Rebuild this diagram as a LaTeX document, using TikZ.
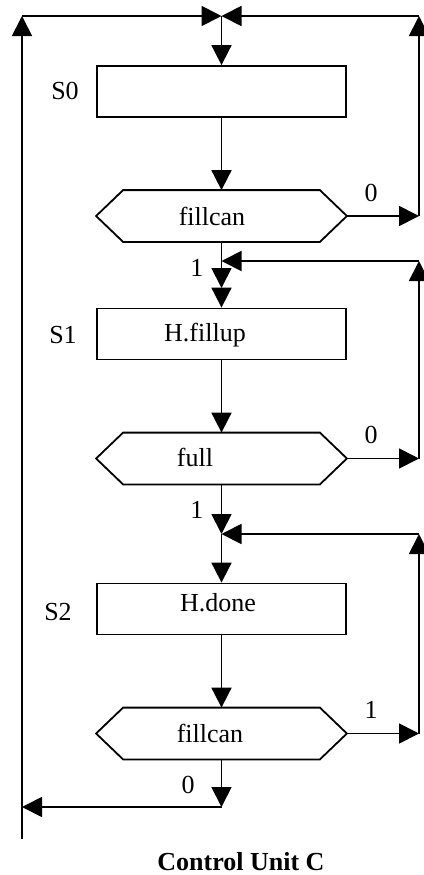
\documentclass[tikz,border=0pt]{standalone}
\usepackage{fontspec}
\setmainfont{Liberation Serif}
\usetikzlibrary{arrows.meta}
\begin{document}
\begin{tikzpicture}[x=0.5pt,y=-0.5pt,
  font=\fontsize{13}{15}\selectfont,
  line width=0.9pt,
  arr/.style={-{Triangle[length=10pt,width=10pt]}},
  statebox/.style={draw,rectangle,minimum width=124.5pt,minimum height=25.5pt,inner sep=0pt},
  hexbox/.style={rectangle,minimum width=124.5pt,minimum height=25pt,inner sep=0pt},
  lbl/.style={inner sep=0pt}]
\useasboundingbox (0,0) rectangle (424,875);

% states and decisions
\node[statebox] (S0) at (221.5,91.5) {};
\node[hexbox]   (h0) at (221.5,216) {};
\node[statebox] (S1) at (221.5,334) {};
\node[hexbox]   (h1) at (221.5,458.5) {};
\node[statebox] (S2) at (221.5,609) {};
\node[hexbox]   (h2) at (221.5,733.5) {};

% hexagonal decision outlines
\foreach \h in {h0,h1,h2}{
  \draw (\h.west) -- ([xshift=13.5pt]\h.north west) -- ([xshift=-13.5pt]\h.north east)
     -- (\h.east) -- ([xshift=-13.5pt]\h.south east) -- ([xshift=13.5pt]\h.south west) -- cycle;
}

% texts
\node[lbl] (t0) at (212,216) {fillcan};
\node[lbl] (t1) at (195,457) {full};
\node[lbl] (t2) at (210,733) {fillcan};
\node[lbl] (a1) at (205,335) {H.fillup};
\node[lbl] (a2) at (218,603) {H.done};
\node[lbl] (n0) at (65,91) {S0};
\node[lbl] (n1) at (63,335) {S1};
\node[lbl] (n2) at (58,612) {S2};
\node[lbl] (c0a) at (371,193) {0};
\node[lbl] (c0b) at (197,268) {1};
\node[lbl] (c1a) at (371,435) {0};
\node[lbl] (c1b) at (197,510) {1};
\node[lbl] (c2a) at (371,710) {1};
\node[lbl] (c2b) at (188,785) {0};
\node[lbl,font=\fontsize{13}{15}\selectfont\bfseries] (title) at (241,862) {Control Unit C};

% junction points
\coordinate (T)  at (221.5,16);
\coordinate (LT) at (22,16);
\coordinate (RT) at (419,16);
\coordinate (LB) at (22,839);
\coordinate (R0) at (419,216);
\coordinate (M1) at (221.5,261);
\coordinate (J1) at (221.5,288);
\coordinate (R1t) at (419,261);
\coordinate (R1) at (419,458.5);
\coordinate (M2) at (221.5,534);
\coordinate (R2t) at (419,534);
\coordinate (R2) at (419,733.5);
\coordinate (B)  at (221.5,807);
\coordinate (LA) at (22,807);

% outer return paths
\draw[arr] (LB) -- (LT);
\draw[arr] (LT) -- (T);
\draw[arr] (RT) -- (T);
\draw[arr] (T) -- (S0.north);

% S0 loop
\draw[arr] (S0.south) -- (h0.north);
\draw[arr] (h0.east) -- (R0);
\draw[arr] (R0) -- (RT);
\draw[arr] (h0.south) -- (J1);
\draw[arr] (J1) -- (S1.north);

% S1 loop
\draw[arr] (S1.south) -- (h1.north);
\draw[arr] (h1.east) -- (R1);
\draw[arr] (R1) -- (R1t);
\draw[arr] (R1t) -- (M1);
\draw[arr] (h1.south) -- (M2);
\draw[arr] (M2) -- (S2.north);

% S2 loop
\draw[arr] (S2.south) -- (h2.north);
\draw[arr] (h2.east) -- (R2);
\draw[arr] (R2) -- (R2t);
\draw[arr] (R2t) -- (M2);
\draw[arr] (h2.south) -- (B);
\draw[arr] (B) -- (LA);
\end{tikzpicture}
\end{document}
